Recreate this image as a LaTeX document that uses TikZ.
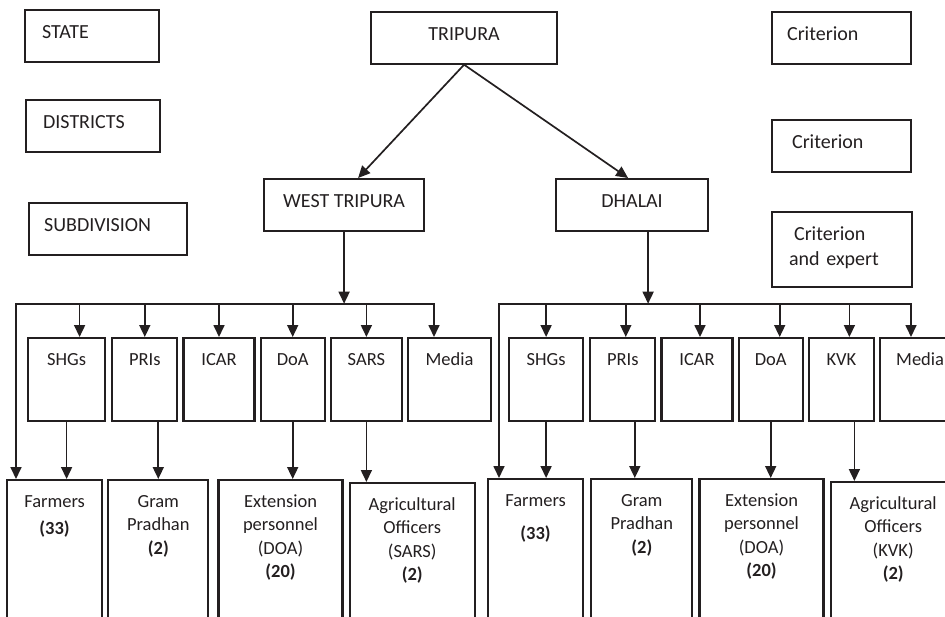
\documentclass[tikz,border=0pt]{standalone}
\usepackage{fontspec}
\setmainfont{Carlito}
\usepackage{tikz}
\usetikzlibrary{positioning,arrows.meta,calc}
\usepackage{xcolor}
\definecolor{ink}{HTML}{231F20}

\newcommand{\topfont}{\fontsize{20}{25}\selectfont}
\newcommand{\rowfont}{\fontsize{18.5}{23.5}\selectfont}

\begin{document}
\begin{tikzpicture}[
  x=1pt, y=-1pt, color=ink,
  box/.style={draw, line width=2.2pt, inner ysep=0pt, font=\topfont, text height=28.5pt, text depth=23pt, anchor=north west},
  lbl/.style={box, align=left, inner xsep=#1},
  unit/.style={draw, line width=2.2pt, inner sep=0pt, font=\rowfont, text height=27pt, text depth=56pt},
  grp/.style={draw, line width=2.2pt, inner xsep=3pt, inner ysep=0pt, align=center, font=\rowfont, text height=27pt, text depth=134pt},
  arr/.style={-{Triangle[length=12pt,width=11pt]}, line width=1.7pt},
  darr/.style={{Triangle[length=12pt,width=11pt]}-{Triangle[length=12pt,width=11pt]}, line width=1.7pt}
]
\useasboundingbox (0,0) rectangle (945,616);
\clip (0,0) rectangle (945,616);

% level labels and criteria
\node[lbl=17pt, text width=100pt] (state) at (24,9) {STATE};
\node[lbl=17pt, text width=100pt] (districts) at (25,99) {DISTRICTS};
\node[lbl=15pt, text width=128pt] (subdiv) at (28,202) {SUBDIVISION};
\node[lbl=15pt, text width=109pt] (critA) at (771,11) {Criterion};
\node[lbl=20pt, text width=99pt] (critB) at (771,119) {Criterion};
\node[lbl=17pt, text width=106pt, text depth=46.5pt] (critC) at (771,211) {\hspace*{5pt}Criterion\\and expert};

% state and districts
\node[box, minimum width=186pt] (tripura) at (370,11) {TRIPURA};
\node[box, minimum width=160pt] (west) at (263,178) {WEST TRIPURA};
\node[box, minimum width=152pt] (dhalai) at (555,178) {DHALAI};
\draw[arr] (tripura.south) -- ([xshift=14pt]west.north);
\draw[arr] (tripura.south) -- ([xshift=-4pt]dhalai.north);

\coordinate[below=72pt of west.south] (busW);
\coordinate[below=72pt of dhalai.south, xshift=16pt] (busE);
\draw[arr] (west.south) -- (busW);
\draw[arr] (busE |- dhalai.south) -- (busE);

% West Tripura institutions
\node[unit, minimum width=77pt, anchor=north west] (shgW) at (27,337) {SHGs};
\node[unit, minimum width=65pt, right=5pt of shgW] (priW) {PRIs};
\node[unit, minimum width=71pt, right=4pt of priW] (icarW) {ICAR};
\node[unit, minimum width=64pt, right=4pt of icarW] (doaW) {DoA};
\node[unit, minimum width=71pt, right=4pt of doaW] (sarsW) {SARS};
\node[unit, minimum width=83pt, right=4pt of sarsW] (medW) {Media};

% West Tripura respondents
\node[grp, text width=89pt, anchor=north west] (farmW) at (6,479) {Farmers\\[3.5pt]\textbf{(33)}};
\node[grp, text width=94pt, right=4pt of farmW] (gramW) {Gram\\Pradhan\\\textbf{(2)}};
\node[grp, text width=118pt, right=8pt of gramW] (extW) {Extension\\personnel\\(DOA)\\\textbf{(20)}};
\node[grp, text width=119pt, right=5pt of extW, yshift=-3pt] (agriW) {Agricultural\\Officers\\(SARS)\\\textbf{(2)}};

\draw[darr] ([xshift=10pt]farmW.north west) |- (busW) -| ([xshift=27pt]medW.north west);
\draw[arr] ([xshift=13pt]shgW.north |- busW) -- ([xshift=13pt]shgW.north);
\draw[arr] (priW.north |- busW) -- (priW.north);
\draw[arr] (icarW.north |- busW) -- (icarW.north);
\draw[arr] (doaW.north |- busW) -- (doaW.north);
\draw[arr] (sarsW.north |- busW) -- (sarsW.north);

\draw[arr] (shgW.south) -- (shgW.south |- farmW.north);
\draw[arr] (gramW.north |- priW.south) -- (gramW.north);
\draw[arr] (doaW.south) -- (doaW.south |- extW.north);
\draw[arr] (sarsW.south) -- (sarsW.south |- agriW.north);

% Dhalai institutions
\node[unit, minimum width=74pt, anchor=north west] (shgE) at (508,337) {SHGs};
\node[unit, minimum width=65pt, right=5pt of shgE] (priE) {PRIs};
\node[unit, minimum width=71pt, right=4pt of priE] (icarE) {ICAR};
\node[unit, minimum width=64pt, right=4pt of icarE] (doaE) {DoA};
\node[unit, minimum width=65pt, right=4pt of doaE] (kvkE) {KVK};
\node[unit, minimum width=80pt, right=4pt of kvkE] (medE) {Media};

% Dhalai respondents
\node[grp, text width=89pt, anchor=north west] (farmE) at (487,478) {Farmers\\[9.5pt]\textbf{(33)}};
\node[grp, text width=95pt, right=6pt of farmE] (gramE) {Gram\\Pradhan\\\textbf{(2)}};
\node[grp, text width=118pt, right=5pt of gramE] (extE) {Extension\\personnel\\(DOA)\\\textbf{(20)}};
\node[grp, text width=119pt, right=5pt of extE, yshift=-3pt] (agriE) {Agricultural\\Officers\\(KVK)\\\textbf{(2)}};

\draw[darr] ([xshift=12pt]farmE.north west) |- (busE) -| ([xshift=32pt]medE.north west);
\draw[arr] (shgE.north |- busE) -- (shgE.north);
\draw[arr] ([xshift=3pt]priE.north |- busE) -- ([xshift=3pt]priE.north);
\draw[arr] ([xshift=3pt]icarE.north |- busE) -- ([xshift=3pt]icarE.north);
\draw[arr] ([xshift=9pt]doaE.north |- busE) -- ([xshift=9pt]doaE.north);
\draw[arr] ([xshift=8pt]kvkE.north |- busE) -- ([xshift=8pt]kvkE.north);

\draw[arr] (shgE.south) -- (shgE.south |- farmE.north);
\draw[arr] ([xshift=-7pt]gramE.north |- priE.south) -- ([xshift=-7pt]gramE.north);
\draw[arr] (doaE.south) -- (doaE.south |- extE.north);
\draw[arr] ([xshift=13pt]kvkE.south) -- ([xshift=13pt]kvkE.south |- agriE.north);
\end{tikzpicture}
\end{document}
